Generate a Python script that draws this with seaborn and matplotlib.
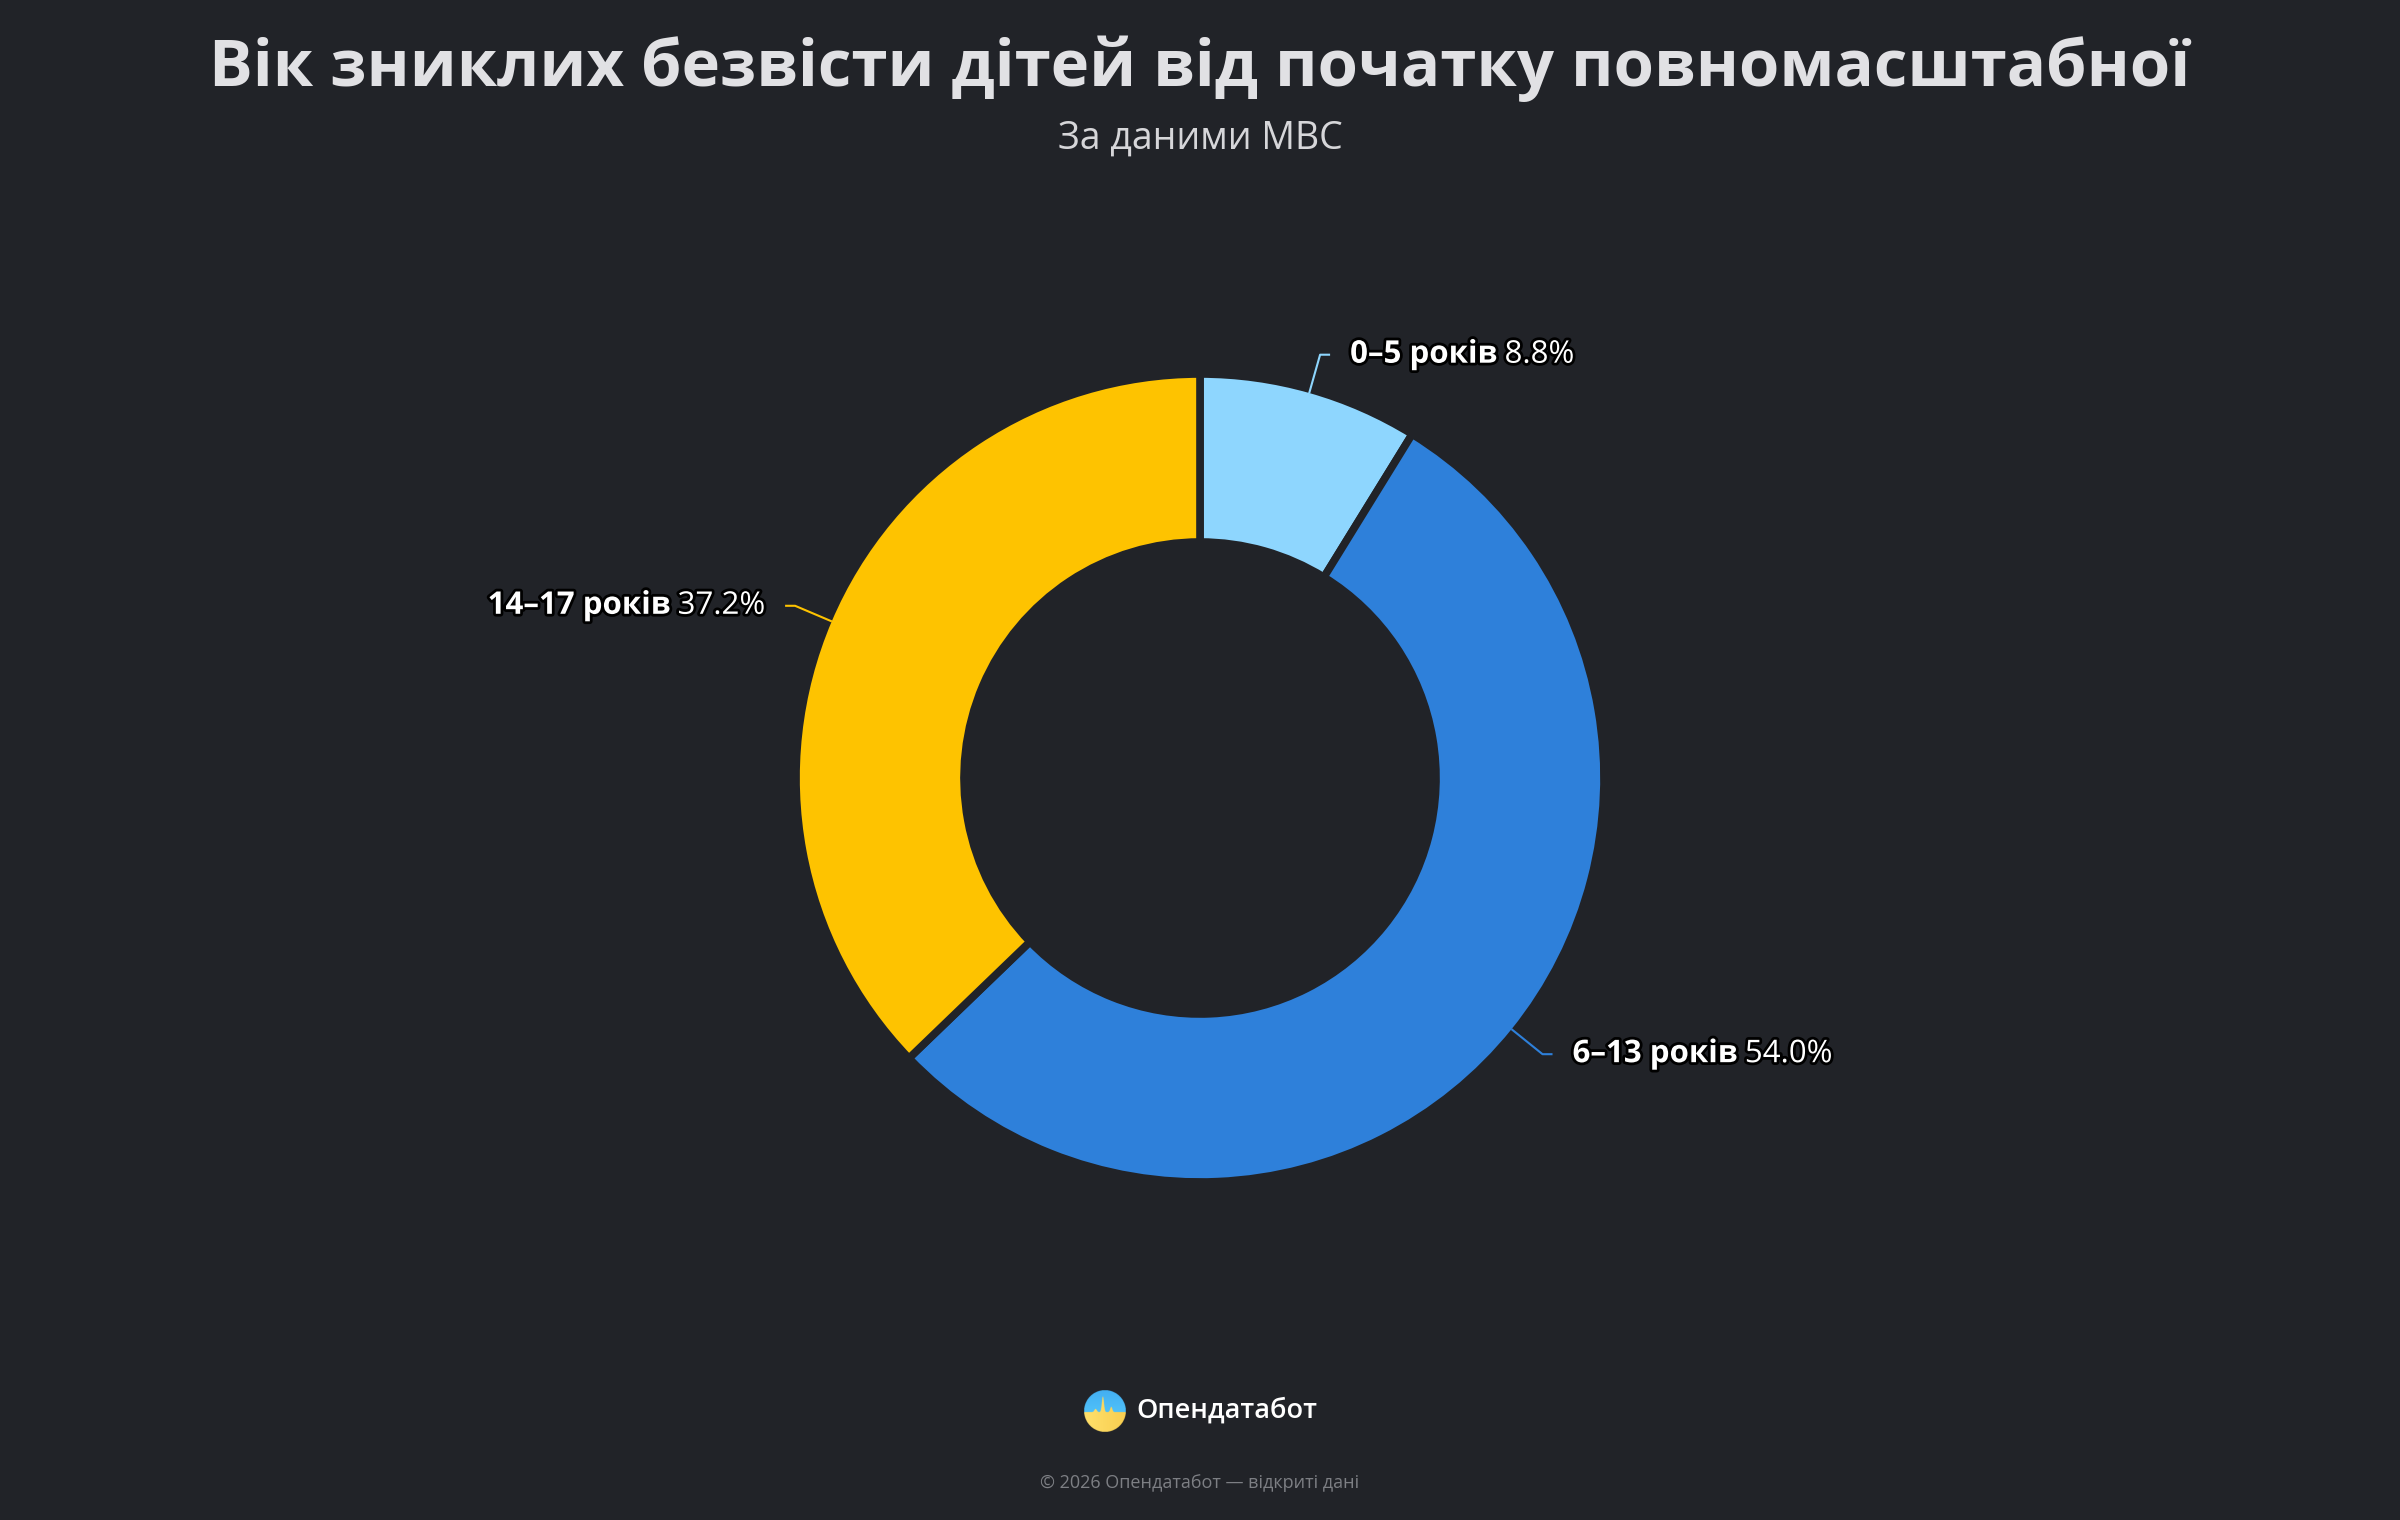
import numpy as np
import seaborn as sns
import matplotlib.pyplot as plt
import matplotlib.patheffects as pe

# дані
categories = ['0–5 років', '6–13 років', '14–17 років']
shares = [8.8, 54.0, 37.2]
colors = ['#8ed6fe', '#2e80da', '#fec300']

title = 'Вік зниклих безвісти дітей від початку повномасштабної'
subtitle = 'За даними МВС'
brand = 'Опендатабот'
footer = '© 2026 Опендатабот — відкриті дані'

bg = '#212328'
W, H = 2400, 1520

sns.set_theme(style='dark', rc={'figure.facecolor': bg, 'axes.facecolor': bg,
                                'savefig.facecolor': bg})
plt.rcParams['font.family'] = ['Open Sans', 'DejaVu Sans']

fig = plt.figure(figsize=(W / 100, H / 100), dpi=100)


def fy(px):
    # пікселі від верху -> координати фігури
    return 1 - px / H


fig.text(0.5, fy(86), title, ha='center', va='baseline', fontsize=47,
         fontweight='bold', color='#e1e1e4')
fig.text(0.5, fy(139), subtitle, ha='center', va='center', fontsize=27,
         color='#d6d6d9')

# кільцева діаграма
ax = fig.add_axes([700 / W, (H - 778 - 500) / H, 1000 / W, 1000 / H])
wedges, _ = ax.pie(shares, colors=colors, startangle=90, counterclock=False,
                   radius=1.01,
                   wedgeprops=dict(width=0.42, edgecolor=bg, linewidth=5.5,
                                   joinstyle='round'))
ax.set_xlim(-1.25, 1.25)
ax.set_ylim(-1.25, 1.25)
ax.axis('off')

stroke = [pe.withStroke(linewidth=4, foreground='black')]
for w, cat, val, col in zip(wedges, categories, shares, colors):
    ang = np.deg2rad((w.theta1 + w.theta2) / 2)
    x0, y0 = np.cos(ang), np.sin(ang)
    x1, y1 = 1.1 * x0, 1.1 * y0
    side = 1 if x0 >= 0 else -1
    x2 = x1 + 0.025 * side
    ax.plot([x0, x1, x2], [y0, y1, y1], color=col, lw=1.5,
            solid_capstyle='butt', clip_on=False)
    xt = x2 + 0.05 * side
    pct = f'{val:.1f}%'
    if side > 0:
        t1 = ax.text(xt, y1, cat, ha='left', va='center', fontsize=22.5,
                     fontweight='bold', color='white', path_effects=stroke)
        ax.annotate(pct, xy=(1, 0.5), xycoords=t1, xytext=(5, 0),
                    textcoords='offset points', ha='left', va='center',
                    fontsize=22.5, color='white', path_effects=stroke)
    else:
        t1 = ax.text(xt, y1, pct, ha='right', va='center', fontsize=22.5,
                     color='white', path_effects=stroke)
        ax.annotate(cat, xy=(0, 0.5), xycoords=t1, xytext=(-5, 0),
                    textcoords='offset points', ha='right', va='center',
                    fontsize=22.5, fontweight='bold', color='white',
                    path_effects=stroke)

# логотип
lx, ly, lr = 1105, 1411, 21
lax = fig.add_axes([(lx - lr) / W, (H - ly - lr) / H, 2 * lr / W, 2 * lr / H])
n = 200
xx, yy = np.meshgrid(np.linspace(-1, 1, n), np.linspace(1, -1, n))
wave = (-0.05 + 0.75 * np.exp(-((xx + 0.1) / 0.07) ** 2)
        + 0.25 * np.exp(-((xx - 0.3) / 0.07) ** 2)
        + 0.15 * np.exp(-((xx + 0.45) / 0.08) ** 2))
top = np.array([0.35, 0.82, 1.0])[None, None, :] * (1 - (yy[..., None] + 1) / 4) \
    + np.array([0.18, 0.55, 0.9])[None, None, :] * ((yy[..., None] + 1) / 4)
bot = np.array([1.0, 0.88, 0.42])[None, None, :] * (1 - (xx[..., None] + 1) / 3) \
    + np.array([0.96, 0.77, 0.26])[None, None, :] * ((xx[..., None] + 1) / 3)
img = np.where((yy > wave)[..., None], top, bot)
alpha = (xx ** 2 + yy ** 2 <= 1).astype(float)
img = np.dstack([img, alpha])
lax.imshow(img, extent=(-1, 1, -1, 1))
lax.axis('off')

fig.text(1136 / W, fy(1411), brand, ha='left', va='center', fontsize=19.5,
         fontweight='semibold', color='white')
fig.text(0.5, fy(1483), footer, ha='center', va='center', fontsize=13,
         color='#7d7f84')

fig.savefig('out.png', dpi=100, facecolor=bg)
